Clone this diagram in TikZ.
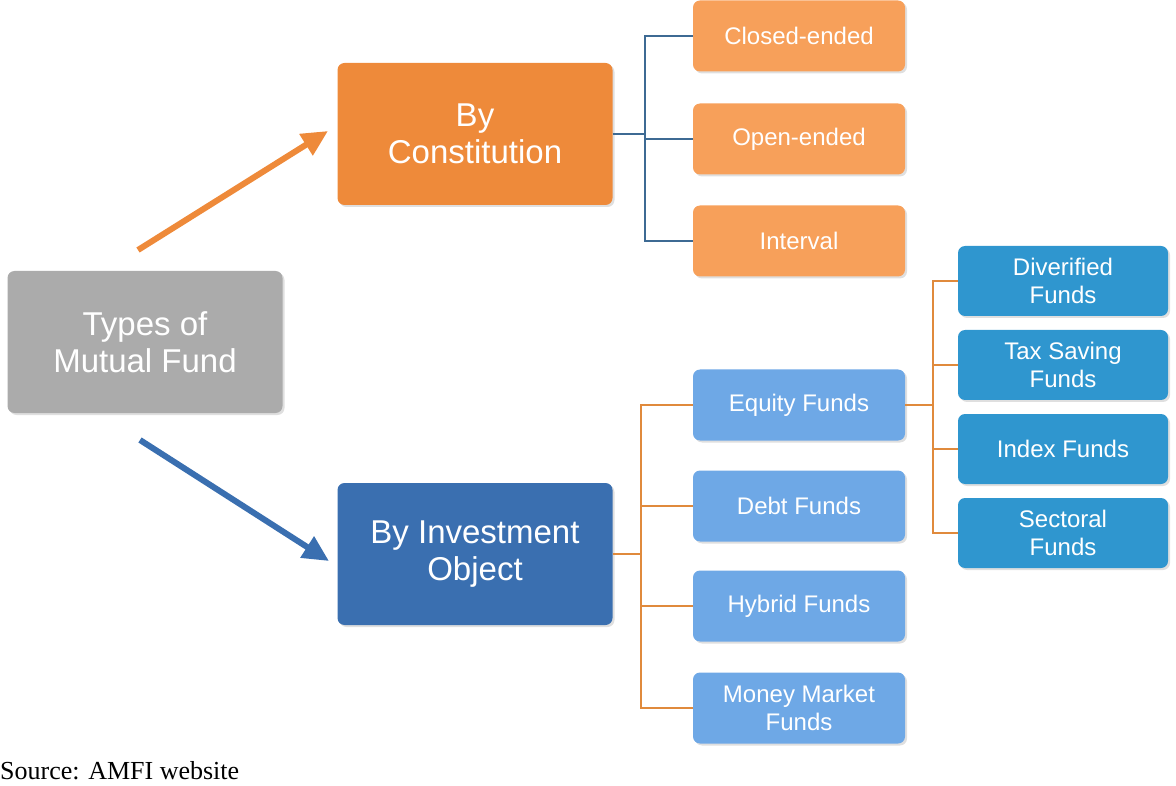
\documentclass[tikz,border=0pt]{standalone}
\usepackage{fontspec}
\setmainfont{Liberation Sans}
\newfontfamily\srcfont{Liberation Serif}
\usetikzlibrary{arrows.meta,shadows}
\definecolor{grayfill}{HTML}{ABABAB}
\definecolor{orangemain}{HTML}{EE8A3A}
\definecolor{orangesub}{HTML}{F7A05A}
\definecolor{bluemain}{HTML}{3A6FB0}
\definecolor{bluesub}{HTML}{6EA8E6}
\definecolor{tealsub}{HTML}{2F96CF}
\definecolor{linkblue}{HTML}{3D6A93}
\definecolor{linkorange}{HTML}{E08A3C}
\tikzset{
  box/.style={rounded corners=7pt, text=white, align=center, inner sep=0pt,
    drop shadow={shadow xshift=2pt,shadow yshift=-2pt,opacity=0.25}},
  bigbox/.style={box, minimum width=275pt, minimum height=142pt, font=\fontsize{33}{37}\selectfont},
  subbox/.style={box, minimum width=212pt, minimum height=71pt, font=\fontsize{24}{28}\selectfont},
  fundbox/.style={box, minimum width=210pt, minimum height=70pt, font=\fontsize{24}{28}\selectfont},
  link/.style={line width=1.6pt},
  bigarrow/.style={line width=6pt, -{Triangle[length=26pt,width=24pt]}}
}
\begin{document}
\begin{tikzpicture}[x=1pt,y=-1pt]
\useasboundingbox (0,0) rectangle (1176,786);
\clip (0,0) rectangle (1176,786);
% main boxes
\node[bigbox, fill=grayfill] (types) at (145,342) {Types of\\Mutual Fund};
\node[bigbox, fill=orangemain] (constitution) at (475,134) {By\\Constitution};
\node[bigbox, fill=bluemain] (investment) at (475,554) {By Investment\\Object};
% by constitution
\node[subbox, fill=orangesub] (closed) at (799,36) {Closed-ended};
\node[subbox, fill=orangesub] (open) at (799,139) {Open-ended};
\node[subbox, fill=orangesub] (interval) at (799,241) {Interval};
% by investment object
\node[subbox, fill=bluesub] (equity) at (799,405) {Equity Funds};
\node[subbox, fill=bluesub] (debt) at (799,506) {Debt Funds};
\node[subbox, fill=bluesub] (hybrid) at (799,606) {Hybrid Funds};
\node[subbox, fill=bluesub] (money) at (799,708) {Money Market\\Funds};
% equity funds
\node[fundbox, fill=tealsub] (diverified) at (1063,281) {Diverified\\Funds};
\node[fundbox, fill=tealsub] (taxsaving) at (1063,365) {Tax Saving\\Funds};
\node[fundbox, fill=tealsub] (index) at (1063,449) {Index Funds};
\node[fundbox, fill=tealsub] (sectoral) at (1063,533) {Sectoral\\Funds};
% arrows
\coordinate (orangetail) at (138,250);
\coordinate (bluetail) at (140,440);
\draw[bigarrow, color=orangemain] (orangetail) -- (328,131);
\draw[bigarrow, color=bluemain] (bluetail) -- (329,561);
% tree links
\draw[link, linkblue] (constitution.east) -- (645,134);
\foreach \n in {closed,open,interval}
  \draw[link, linkblue] (\n.west) -| (645,134);
\draw[link, linkorange] (investment.east) -- (641,554);
\foreach \n in {equity,debt,hybrid,money}
  \draw[link, linkorange] (\n.west) -| (641,554);
\draw[link, linkorange] (equity.east) -- (933,405);
\foreach \n in {diverified,taxsaving,index,sectoral}
  \draw[link, linkorange] (\n.west) -| (933,405);
% source
\node[anchor=north west, inner sep=0pt, font=\srcfont\fontsize{26}{30}\selectfont] (source) at (0,761) {Source: AMFI website};
\end{tikzpicture}
\end{document}
